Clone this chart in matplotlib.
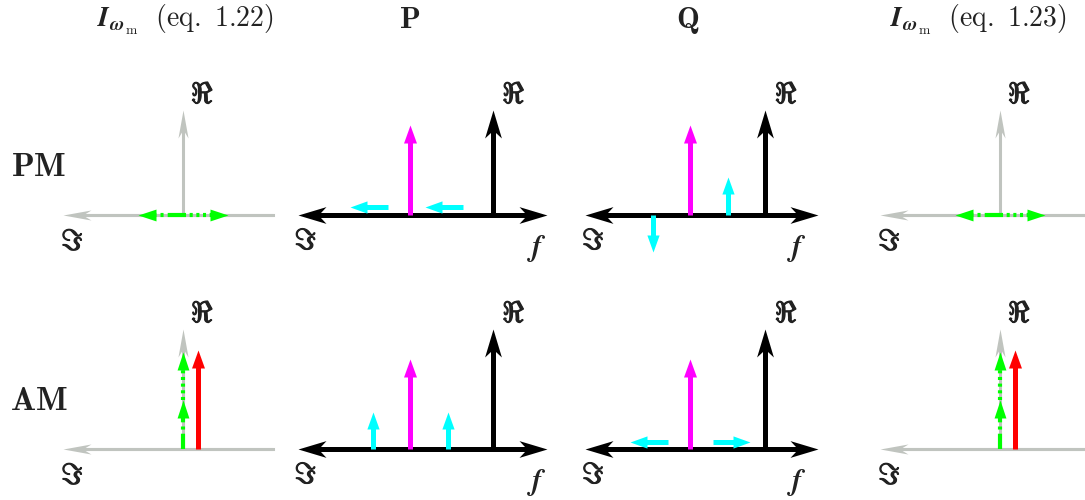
import numpy as np
import matplotlib
matplotlib.use('Agg')
import matplotlib.pyplot as plt
import matplotlib.patheffects as pe
from matplotlib.markers import MarkerStyle
from matplotlib.path import Path
from matplotlib.transforms import Affine2D

plt.rcParams['mathtext.fontset'] = 'cm'
plt.rcParams['lines.scale_dashes'] = False

# ---- data (amplitudes in units of the sideband spacing) ----
col_titles = [r'$\mathbfit{I}_{\mathbfit{\omega}_{\mathrm{m}}}\ \ \mathrm{(eq.\ 1.22)}$',
              r'$\mathbf{P}$', r'$\mathbf{Q}$',
              r'$\mathbfit{I}_{\mathbfit{\omega}_{\mathrm{m}}}\ \ \mathrm{(eq.\ 1.23)}$']
row_labels = [r'$\mathbf{PM}$', r'$\mathbf{AM}$']

# I_wm phasor: two components (re, im); PM drawn from origin, AM stacked
pm_comp_re = [0.0, 0.0]
pm_comp_im = [1.2, -1.2]
am_comp_re = [1.3, 1.3]
am_comp_im = [0.0, 0.0]
am_total_re = 2.65

# spectra: carrier + two sidebands
carrier_f = 0.0
carrier_amp = 2.4
sideband_f = [-1.0, 1.0]
p_pm_re = [0.0, 0.0]
p_pm_im = [1.0, 1.0]
p_am_re = [1.0, 1.0]
p_am_im = [0.0, 0.0]
q_pm_re = [-1.0, 1.0]
q_pm_im = [0.0, 0.0]
q_am_re = [0.0, 0.0]
q_am_im = [1.0, -1.0]

# ---- layout ----
W, H, DPI = 1085, 500, 100
S = 37.5                      # px per unit
col_x = [183, 410, 690, 1000]
row_y = [215, 449]
title_x = [185, 410, 688, 978]
title_fs = [20, 22, 22, 20]
GRAY = '#c0c4bf'
GREEN = '#00ff00'

fig = plt.figure(figsize=(W / DPI, H / DPI), dpi=DPI)


def head_marker(angle, hw, notch):
    verts = [(0, 0), (-1, hw), (-1 + notch, 0), (-1, -hw), (0, 0)]
    codes = [Path.MOVETO, Path.LINETO, Path.LINETO, Path.LINETO, Path.CLOSEPOLY]
    return MarkerStyle(Path(verts, codes), transform=Affine2D().rotate_deg(angle))


def arrow(ax, x0, y0, x1, y1, color, lw, L, hw=0.36, notch=0.0,
          ls='-', z=2, both=False):
    dx, dy = x1 - x0, y1 - y0
    n = np.hypot(dx, dy)
    ux, uy = dx / n, dy / n
    inset = L * (notch + 0.15 if notch else 0.85) / S
    sx, sy = x0, y0
    if both:
        sx, sy = x0 + ux * inset, y0 + uy * inset
    ax.plot([sx, x1 - ux * inset], [sy, y1 - uy * inset], color=color, lw=lw, ls=ls,
            solid_capstyle='butt', dash_capstyle='butt', zorder=z)
    ang = np.degrees(np.arctan2(dy, dx))
    ax.plot([x1], [y1], ls='none', marker=head_marker(ang, hw, notch),
            ms=1.44 * L, color=color, mew=0, zorder=z)
    if both:
        ax.plot([x0], [y0], ls='none', marker=head_marker(ang + 180, hw, notch),
                ms=1.44 * L, color=color, mew=0, zorder=z)


def panel(ox, oy):
    ax = fig.add_axes([0, 0, 1, 1])
    ax.set_xlim(-ox / S, (W - ox) / S)
    ax.set_ylim(-(H - oy) / S, oy / S)
    ax.axis('off')
    ax.patch.set_alpha(0)
    return ax


LBL = 21
BOLD = [pe.withStroke(linewidth=0.9, foreground='#222222')]
DASHDOT = (0, (11, 3, 2.2, 3))
DOTTED = (0, (2.2, 2.6))


def label(ax, x, y, s):
    ax.text(x, y, s, fontsize=LBL, ha='center', va='center', color='#222222',
            path_effects=BOLD)


for r in range(2):
    top = 2.8 if r == 0 else 3.2
    # ---- phasor columns ----
    for c in (0, 3):
        ax = panel(col_x[c], row_y[r])
        ax.plot([2.4, -3.2 + 0.6], [0, 0], color=GRAY, lw=2.2, zorder=1)
        arrow(ax, 2.4, 0, -3.2, 0, GRAY, 2.2, 28, hw=0.18, notch=0.3, z=1)
        arrow(ax, 0, 0, 0, top, GRAY, 2.2, 28, hw=0.18, notch=0.3, z=1)
        label(ax, 0.52, top + 0.4, r'$\Re$')
        label(ax, -3.2 + 0.25, -0.72, r'$\Im$')
        styles = [DASHDOT, DOTTED]
        if r == 0:
            for re, im, st in zip(pm_comp_re, pm_comp_im, styles):
                arrow(ax, 0, 0, -im, re, GREEN, 3.0, 18, hw=0.33, ls=st, z=3)
        else:
            x0, y0 = 0.0, 0.0
            for re, im, st in zip(am_comp_re, am_comp_im, styles):
                arrow(ax, x0, y0, x0 - im, y0 + re, GREEN, 3.0, 18, hw=0.33, ls=st, z=3)
                x0, y0 = x0 - im, y0 + re
            arrow(ax, 0.4, 0, 0.4, am_total_re, 'red', 3.6, 18, hw=0.36, z=3)

    # ---- spectrum columns ----
    specs = [(1, -3.0, 3.65, 2.2, 3.38, [p_pm_re, p_am_re][r], [p_pm_im, p_am_im][r]),
             (2, -2.8, 3.4, 2.0, 2.85, [q_pm_re, q_am_re][r], [q_pm_im, q_am_im][r])]
    for c, xl, xr, vx, fx, sre, sim in specs:
        ax = panel(col_x[c], row_y[r])
        arrow(ax, xr, 0, xl, 0, 'black', 3.6, 28, hw=0.3, notch=0.28, both=True)
        arrow(ax, vx, 0, vx, top, 'black', 3.6, 28, hw=0.3, notch=0.28)
        label(ax, vx + 0.57, top + 0.4, r'$\Re$')
        label(ax, xl + 0.22, -0.7, r'$\Im$')
        ax.text(fx, -0.9, r'$\mathbfit{f}$', fontsize=LBL, ha='center', va='center',
                color='#222222')
        arrow(ax, carrier_f, 0, carrier_f, carrier_amp, 'magenta', 3.6, 18, hw=0.36, z=3)
        for f, re, im in zip(sideband_f, sre, sim):
            if im != 0:
                x0 = f + 0.4 * im
                arrow(ax, x0, 0.2, x0 - im, 0.2, 'cyan', 3.6, 17, hw=0.36, z=3)
            else:
                arrow(ax, f, 0, f, re, 'cyan', 3.6, 17, hw=0.36, z=3)

for t, x, fs in zip(col_titles, title_x, title_fs):
    fig.text(x / W, 1 - 20 / H, t, fontsize=fs, ha='center', va='center', color='#222222')
for t, y in zip(row_labels, [166, 401]):
    fig.text(39 / W, 1 - y / H, t, fontsize=24, ha='center', va='center', color='#222222')

fig.savefig('out.png', dpi=DPI)
